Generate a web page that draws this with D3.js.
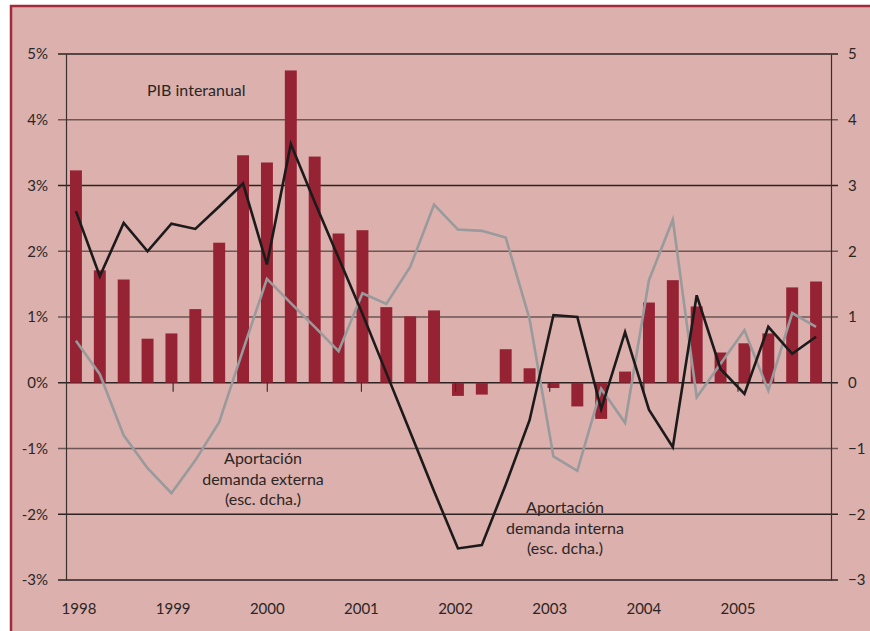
<!DOCTYPE html>
<html>
<head>
<meta charset="utf-8">
<script src="https://cdn.jsdelivr.net/npm/d3@7"></script>
<style>
  body { margin: 0; background: #ffffff; }
  text { font-family: Lato, 'Open Sans', sans-serif; fill: #2b2626; }
</style>
</head>
<body>
<svg id="chart" width="870" height="631"></svg>
<script>
'use strict'

/****** DATA ******/

const years = [1998, 1999, 2000, 2001, 2002, 2003, 2004, 2005]
const quarters = years.flatMap(y => ['T1', 'T2', 'T3', 'T4'].map(q => `${y}${q}`))

// PIB interanual (%), bars, left axis
const pib = [3.23, 1.71, 1.57, 0.67, 0.75, 1.12, 2.13, 3.46,
             3.35, 4.75, 3.44, 2.27, 2.32, 1.15, 1.01, 1.10,
             -0.20, -0.18, 0.51, 0.22, -0.08, -0.36, -0.55, 0.17,
             1.22, 1.56, 1.16, 0.46, 0.60, 0.75, 1.45, 1.54]

// Aportación demanda interna (right axis)
const interna = [2.61, 1.62, 2.43, 2.00, 2.42, 2.34, 2.68, 3.03,
                 1.80, 3.63, 2.75, 1.90, 1.05, 0.15, -0.75, -1.65,
                 -2.52, -2.47, -1.55, -0.57, 1.03, 1.00, -0.40, 0.77,
                 -0.41, -0.98, 1.33, 0.21, -0.17, 0.85, 0.44, 0.70]

// Aportación demanda externa (right axis)
const externa = [0.64, 0.13, -0.80, -1.30, -1.68, -1.18, -0.60, 0.50,
                 1.58, 1.21, 0.85, 0.48, 1.36, 1.20, 1.76, 2.71,
                 2.33, 2.31, 2.21, 0.97, -1.12, -1.34, -0.09, -0.61,
                 1.56, 2.48, -0.22, 0.29, 0.80, -0.12, 1.06, 0.85]

const yTicks = [-3, -2, -1, 0, 1, 2, 3, 4, 5]
const darkGrid = [5, 3, 0, -2, -3]

/****** SCALES ******/

const svg = d3.select('#chart')

const x = d3.scaleBand()
  .domain(quarters)
  .range([64, 828])
  .paddingInner(0.5)
  .paddingOuter(0.25)

const xYear = d3.scaleLinear()
  .domain([1998, 2005])
  .range([79, 738])

const y = d3.scaleLinear()
  .domain([-3, 5])
  .range([580, 54])

const left = 66, right = 831

// background + frame
svg.append('rect')
  .attr('x', 11).attr('y', 6)
  .attr('width', 870).attr('height', 631)
  .attr('fill', '#dcb0ad')
svg.append('line')
  .attr('x1', 10).attr('x2', 870).attr('y1', 6).attr('y2', 6)
  .attr('stroke', '#a32a3b').attr('stroke-width', 2.5)
svg.append('line')
  .attr('x1', 11).attr('x2', 11).attr('y1', 5).attr('y2', 631)
  .attr('stroke', '#a32a3b').attr('stroke-width', 2.5)

// gridlines
svg.append('g')
  .selectAll('line')
  .data(yTicks)
  .join('line')
    .attr('x1', 58).attr('x2', 838)
    .attr('y1', d => y(d)).attr('y2', d => y(d))
    .attr('stroke', d => darkGrid.includes(d) ? '#2e2222' : '#6c5656')
    .attr('stroke-width', 1.5)

// left axis
const yLeft = svg.append('g')
  .attr('transform', `translate(${left},0)`)
  .call(d3.axisLeft(y).tickValues(yTicks).tickFormat(d => d + '%').tickSize(0).tickPadding(18))
yLeft.select('.domain').attr('stroke', '#3a3030').attr('stroke-width', 1.2)

// right axis
const yRight = svg.append('g')
  .attr('transform', `translate(${right},0)`)
  .call(d3.axisRight(y).tickValues(yTicks).tickSize(0).tickPadding(17))
yRight.select('.domain').attr('stroke', '#3a3030').attr('stroke-width', 1.2)

svg.selectAll('.tick text').attr('font-size', 15).style('font-family', 'Lato, sans-serif').attr('fill', '#2b2626')

// bars
svg.append('g')
  .selectAll('rect')
  .data(pib)
  .join('rect')
    .attr('x', (d, i) => x(quarters[i]))
    .attr('width', x.bandwidth())
    .attr('y', d => y(Math.max(0, d)))
    .attr('height', d => Math.abs(y(d) - y(0)))
    .attr('fill', '#962334')

// year ticks and labels
svg.append('g')
  .selectAll('line')
  .data(years.slice(1))
  .join('line')
    .attr('x1', d => xYear(d)).attr('x2', d => xYear(d))
    .attr('y1', y(0)).attr('y2', y(0) + 9)
    .attr('stroke', '#3a3030').attr('stroke-width', 1.2)

svg.append('g')
  .selectAll('text')
  .data(years)
  .join('text')
    .attr('x', d => xYear(d))
    .attr('y', 614)
    .attr('text-anchor', 'middle')
    .attr('font-size', 15)
    .text(d => d)

// lines
const line = d3.line()
  .x((d, i) => x(quarters[i]) + x.bandwidth() / 2)
  .y(d => y(d))

svg.append('path')
  .datum(externa)
  .attr('d', line)
  .attr('fill', 'none')
  .attr('stroke', '#999a9c')
  .attr('stroke-width', 2.6)
  .attr('stroke-linejoin', 'miter')

svg.append('path')
  .datum(interna)
  .attr('d', line)
  .attr('fill', 'none')
  .attr('stroke', '#1c1a1a')
  .attr('stroke-width', 2.6)

// annotations
svg.append('text')
  .attr('x', 147).attr('y', 96)
  .attr('font-size', 16)
  .text('PIB interanual')

function multiline(lines, cx, y0) {
  svg.append('text')
    .attr('text-anchor', 'middle')
    .attr('font-size', 16)
    .selectAll('tspan')
    .data(lines)
    .join('tspan')
      .attr('x', cx)
      .attr('y', (d, i) => y0 + i * 20.5)
      .text(d => d)
}

multiline(['Aportación', 'demanda externa', '(esc. dcha.)'], 263, 464)
multiline(['Aportación', 'demanda interna', '(esc. dcha.)'], 565, 513)
</script>
</body>
</html>
